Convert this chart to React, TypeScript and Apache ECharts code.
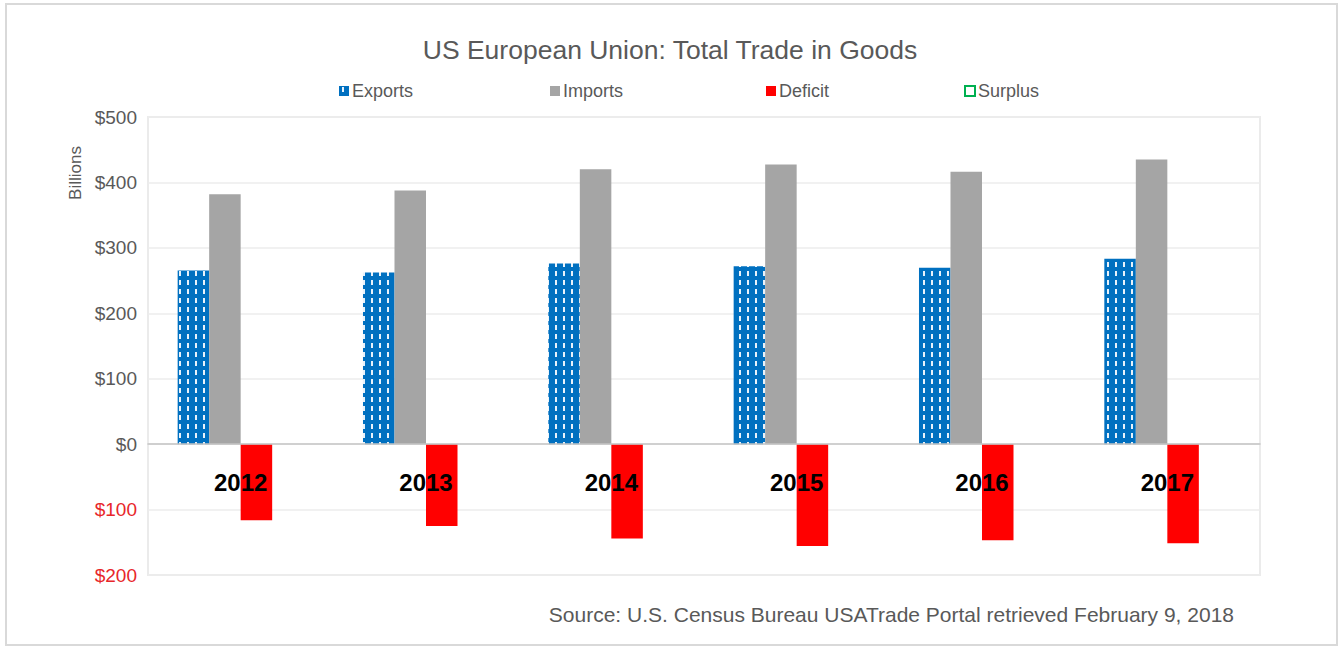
import React, { useEffect, useRef } from "react";
import * as echarts from "echarts";

const years = ["2012", "2013", "2014", "2015", "2016", "2017"];
const exportsData = [265.4, 262.3, 276.1, 272.0, 269.6, 283.5];
const importsData = [381.8, 387.6, 420.2, 427.5, 416.4, 434.9];
const deficitData = [-116.3, -125.3, -144.1, -155.5, -146.8, -151.4];
const surplusData: (number | null)[] = [null, null, null, null, null, null];

const FONT = "'Liberation Sans', Arial, sans-serif";
const GRAY = "#595959";

const Y_MIN = -200;
const Y_MAX = 500;
const GRID_TOP = 117;
const GRID_BOTTOM = 73;
const H = 648;

function makePattern(): string {
  const c = document.createElement("canvas");
  c.width = 8;
  c.height = 9;
  const ctx = c.getContext("2d");
  if (ctx) {
    ctx.fillStyle = "#0070c0";
    ctx.fillRect(0, 0, 8, 9);
    ctx.fillStyle = "#e8f2fb";
    ctx.fillRect(3, 1, 2, 5);
  }
  return c.toDataURL();
}

export default function App() {
  const ref = useRef<HTMLDivElement>(null);
  useEffect(() => {
    if (!ref.current) return;
    const chart = echarts.init(ref.current, undefined, { renderer: "svg" });
    const pattern = { image: makePattern(), repeat: "repeat", imageWidth: 8, imageHeight: 9 } as any;
    const gridH = H - GRID_TOP - GRID_BOTTOM;
    const zeroFromBottom = (gridH * (0 - Y_MIN)) / (Y_MAX - Y_MIN);
    const legendBase = {
      top: 77,
      itemWidth: 10,
      itemHeight: 10,
      itemGap: 0,
      textStyle: { color: GRAY, fontSize: 18, fontFamily: FONT, padding: [0, 0, 0, -2] },
      icon: "rect",
    };
    chart.setOption({
      animation: false,
      backgroundColor: "#ffffff",
      title: {
        text: "US European Union: Total Trade in Goods",
        left: "center",
        top: 31,
        textStyle: { color: GRAY, fontSize: 26.5, fontWeight: "normal", fontFamily: FONT },
      },
      legend: [
        { ...legendBase, left: 334, data: ["Exports"] },
        { ...legendBase, left: 545, data: ["Imports"] },
        { ...legendBase, left: 761, data: ["Deficit"] },
        { ...legendBase, left: 959, data: ["Surplus"] },
      ],
      grid: {
        left: 148,
        right: 80,
        top: GRID_TOP,
        bottom: GRID_BOTTOM,
        show: true,
        borderColor: "#ebebeb",
        borderWidth: 2,
        containLabel: false,
      },
      xAxis: {
        type: "category",
        data: years,
        z: 10,
        offset: -zeroFromBottom,
        axisLine: { onZero: false, lineStyle: { color: "#c4c4c4", width: 1.5 } },
        axisTick: { show: false },
        axisLabel: {
          margin: 26,
          color: "#000000",
          fontWeight: "bold",
          fontSize: 24,
          fontFamily: FONT,
        },
      },
      yAxis: {
        type: "value",
        min: Y_MIN,
        max: Y_MAX,
        interval: 100,
        axisLine: { show: false },
        axisTick: { show: false },
        splitLine: { lineStyle: { color: "#ececec", width: 1.5 } },
        axisLabel: {
          margin: 11,
          fontSize: 19,
          fontFamily: FONT,
          formatter: (v: number) => (v < 0 ? "{neg|$" + Math.abs(v) + "}" : "{pos|$" + v + "}"),
          rich: {
            pos: { color: GRAY, fontSize: 19, fontFamily: FONT },
            neg: { color: "#e8262a", fontSize: 19, fontFamily: FONT },
          },
        },
      },
      series: [
        {
          name: "Exports",
          type: "bar",
          data: exportsData,
          barGap: "0%",
          barCategoryGap: "32%",
          itemStyle: { color: pattern },
        },
        {
          name: "Imports",
          type: "bar",
          data: importsData,
          itemStyle: { color: "#a5a5a5" },
        },
        {
          name: "Deficit",
          type: "bar",
          data: deficitData,
          itemStyle: { color: "#ff0000" },
        },
        {
          name: "Surplus",
          type: "bar",
          data: surplusData,
          itemStyle: { color: "#ffffff", borderColor: "#00b050", borderWidth: 2 },
        },
      ],
      graphic: [
        {
          type: "rect",
          shape: { x: 6, y: 4, width: 1331, height: 641 },
          style: { fill: "none", stroke: "#d9d9d9", lineWidth: 2 },
          silent: true,
        },
        {
          type: "text",
          x: 75,
          y: 173,
          rotation: Math.PI / 2,
          style: {
            text: "Billions",
            fill: GRAY,
            fontSize: 17,
            fontFamily: FONT,
            align: "center",
            verticalAlign: "middle",
          },
        },
        {
          type: "text",
          x: 1234,
          y: 614,
          style: {
            text: "Source: U.S. Census Bureau USATrade Portal retrieved February 9, 2018",
            fill: GRAY,
            fontSize: 21,
            fontFamily: FONT,
            align: "right",
            verticalAlign: "middle",
          },
        },
      ],
    });
    return () => chart.dispose();
  }, []);
  return (
    <div
      ref={ref}
      style={{ position: "fixed", left: 0, top: 0, width: 1340, height: 648 }}
    />
  );
}
